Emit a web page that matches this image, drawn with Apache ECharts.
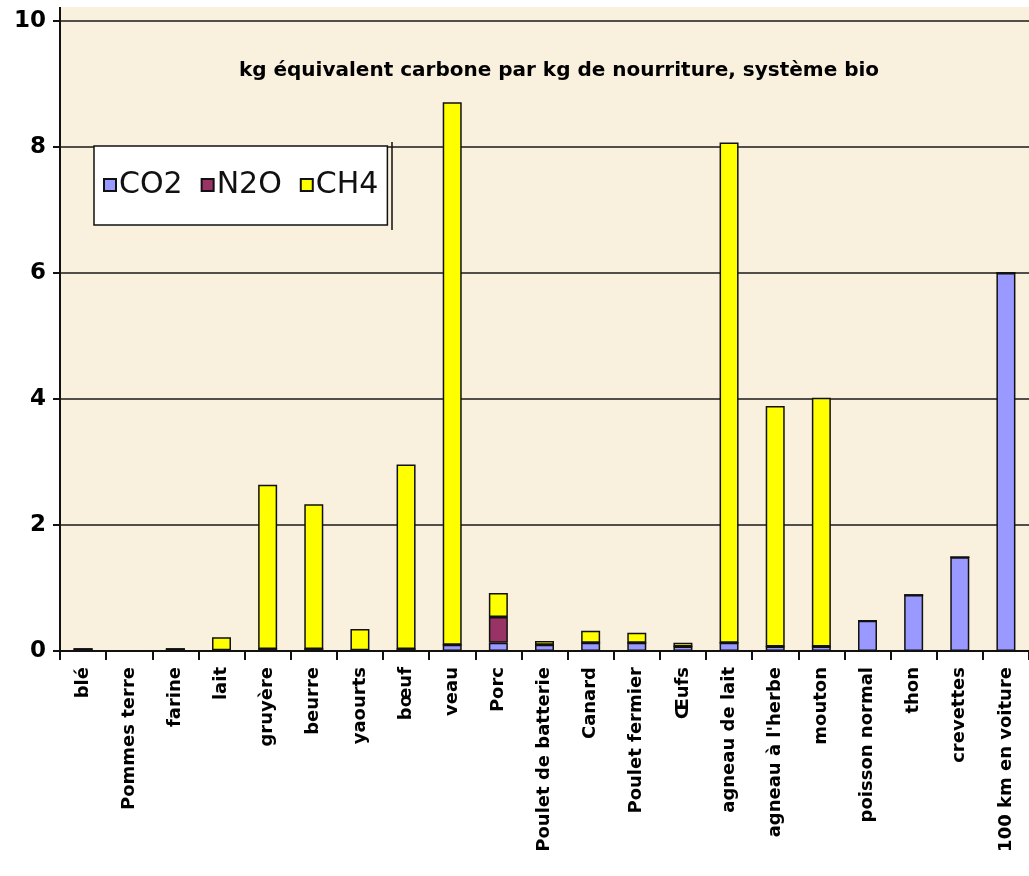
<!DOCTYPE html>
<html>
<head>
<meta charset="utf-8">
<title>kg équivalent carbone</title>
<script src="https://cdn.jsdelivr.net/npm/echarts@6/dist/echarts.min.js"></script>
<style>
	html, body { margin: 0; padding: 0; background: #ffffff; }
	#chart_1 { width: 1029px; height: 876px; }
</style>
</head>
<body>
<div id="chart_1"></div>
<script>
// categories (axe des x)
var aliments = ['blé', 'Pommes terre', 'farine', 'lait', 'gruyère', 'beurre', 'yaourts', 'bœuf', 'veau', 'Porc',
	'Poulet de batterie', 'Canard', 'Poulet fermier', 'Œufs', 'agneau de lait', "agneau à l'herbe", 'mouton',
	'poisson normal', 'thon', 'crevettes', '100 km en voiture'];
// valeurs
var co2 = [0.03, 0, 0.03, 0.01, 0.03, 0.03, 0.01, 0.03, 0.1, 0.13, 0.1, 0.13, 0.13, 0.07, 0.13, 0.07, 0.07, 0.48, 0.89, 1.49, 6.0];
var n2o = [0, 0, 0, 0, 0, 0, 0, 0, 0, 0.41, 0, 0, 0, 0, 0, 0, 0, 0, 0, 0, 0];
var ch4 = [0, 0, 0, 0.21, 2.61, 2.3, 0.34, 2.93, 8.61, 0.38, 0.06, 0.19, 0.16, 0.06, 7.94, 3.82, 3.95, 0, 0, 0, 0];
var yTicks = [0, 2, 4, 6, 8, 10];

var titre = 'kg équivalent carbone par kg de nourriture, système bio';

var dom = document.getElementById("chart_1");
var myChart = echarts.init(dom);

function serie(name, data, color) {
	return {
		name: name,
		type: 'bar',
		stack: 'total',
		barWidth: 19,
		data: data,
		itemStyle: {
			color: color,
			borderColor: '#111111',
			borderWidth: 1.5
		}
	};
}

var option = {
	backgroundColor: '#ffffff',
	animation: false,
	textStyle: {
		fontFamily: 'DejaVu Sans'
	},
	grid: {
		left: 60,
		right: -2,
		top: 21,
		bottom: 225
	},
	graphic: [{
		// fond beige de la zone de tracé
		type: 'rect',
		z: -10,
		shape: { x: 60, y: 7, width: 975, height: 644 },
		style: { fill: '#f9f0dd' }
	}, {
		type: 'line',
		z: 10,
		shape: { x1: 60, y1: 7, x2: 60, y2: 22 },
		style: { stroke: '#111111', lineWidth: 2 }
	}, {
		type: 'line',
		z: 10,
		shape: { x1: 392, y1: 142, x2: 392, y2: 230 },
		style: { stroke: '#111111', lineWidth: 1.5 }
	}, {
		type: 'text',
		z: 10,
		x: 559,
		y: 61,
		style: {
			text: titre,
			fill: '#000000',
			font: 'bold 20px "DejaVu Sans"',
			align: 'center',
			verticalAlign: 'top'
		}
	}],
	legend: {
		left: 94,
		top: 146,
		orient: 'horizontal',
		backgroundColor: '#ffffff',
		borderColor: '#111111',
		borderWidth: 1.5,
		borderRadius: 0,
		padding: [24, 9, 25, 9],
		itemWidth: 12,
		itemHeight: 12,
		itemGap: 18,
		icon: 'rect',
		textStyle: {
			fontFamily: 'DejaVu Sans',
			fontSize: 30,
			color: '#111111',
			padding: [0, 0, 0, -2]
		},
		data: ['CO2', 'N2O', 'CH4']
	},
	xAxis: {
		type: 'category',
		data: aliments,
		axisLine: {
			show: true,
			lineStyle: { color: '#111111', width: 2 }
		},
		axisTick: {
			show: true,
			length: 9,
			interval: 0,
			lineStyle: { color: '#111111', width: 2 }
		},
		axisLabel: {
			interval: 0,
			rotate: 90,
			margin: 16,
			color: '#000000',
			fontFamily: 'DejaVu Sans',
			fontWeight: 'bold',
			fontSize: 18
		},
		splitLine: { show: false }
	},
	yAxis: {
		type: 'value',
		min: yTicks[0],
		max: yTicks[yTicks.length - 1],
		interval: 2,
		axisLine: {
			show: true,
			lineStyle: { color: '#111111', width: 2 }
		},
		axisTick: {
			show: true,
			inside: false,
			length: 7,
			lineStyle: { color: '#111111', width: 2 }
		},
		axisLabel: {
			margin: 14,
			color: '#000000',
			fontFamily: 'DejaVu Sans',
			fontWeight: 'bold',
			fontSize: 23
		},
		splitLine: {
			show: true,
			lineStyle: { color: '#1a1a1a', width: 1.5 }
		}
	},
	series: [
		serie('CO2', co2, '#9999ff'),
		serie('N2O', n2o, '#993366'),
		serie('CH4', ch4, '#ffff00')
	]
};
myChart.setOption(option);
</script>
</body>
</html>
